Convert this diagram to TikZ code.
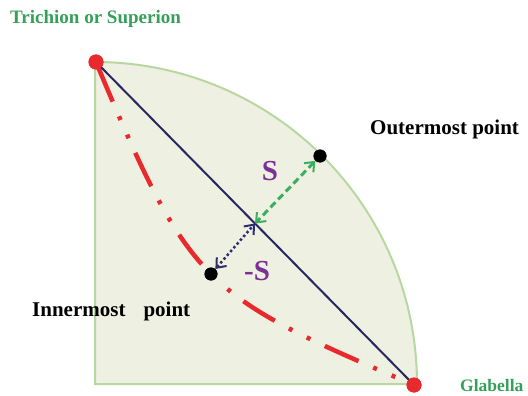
\documentclass[tikz,border=0pt]{standalone}
\usepackage{fontspec}
\setmainfont{Liberation Serif}
\usetikzlibrary{arrows.meta,calc}
\definecolor{regionfill}{HTML}{EEF0E1}
\definecolor{regionedge}{HTML}{B9D7A1}
\definecolor{labelgreen}{HTML}{34A058}
\definecolor{navy}{HTML}{27275F}
\definecolor{redpt}{HTML}{E82A2E}
\definecolor{purplelab}{HTML}{7B3096}
\definecolor{arrowgreen}{HTML}{3DAE5E}
\definecolor{dotnavy}{HTML}{2E2E6E}
\tikzset{
  reddot/.style={circle,fill=redpt,inner sep=0pt,minimum size=15pt},
  blackdot/.style={circle,fill=black,inner sep=0pt,minimum size=13pt},
  greenlab/.style={text=labelgreen,font=\fontsize{19}{21}\selectfont\bfseries,inner sep=0pt},
  blacklab/.style={text=black,font=\fontsize{21}{23}\selectfont\bfseries,inner sep=0pt},
  slab/.style={text=purplelab,font=\fontsize{29}{31}\selectfont\bfseries,inner sep=0pt},
  barb/.tip={Straight Barb[length=8pt,width=13pt,line width=2pt]},
}
\begin{document}
\begin{tikzpicture}[x=1pt,y=-1pt]
\useasboundingbox (0,0) rectangle (528,396);
% region
\filldraw[fill=regionfill,draw=regionedge,line width=2pt]
  (95,384) -- (95,62) arc[start angle=-90,end angle=0,radius=322] -- cycle;
% points
\node[reddot] (T) at (96,62) {};
\node[reddot] (G) at (414,385) {};
\coordinate (M) at ($(T)!0.5!(G)$);
\node[blackdot] (O) at (320,156) {};
\node[blackdot] (I) at (211,274) {};
% red dash-dot-dot curve
\draw[redpt,line width=4.5pt,dash pattern=on 37pt off 16pt on 4pt off 16pt on 4pt off 16pt,dash phase=87pt]
  (T.center) .. controls (190,287) and (203,295) .. (G.center);
% diagonal
\draw[navy,line width=2pt] (T.center) -- (G.center);
% arrows
\draw[arrowgreen,line width=3pt,dash pattern=on 7pt off 4pt,{barb}-{barb}] (O) -- (M);
\draw[dotnavy,line width=2.5pt,dash pattern=on 2.5pt off 2.5pt,{barb}-{barb}] (I) -- (M);
\node[blackdot] at (O) {};
\node[blackdot] at (I) {};
\node[reddot] at (T) {};
\node[reddot] at (G) {};
% labels
\node[greenlab,anchor=base west] (lt) at (10,24) {Trichion or Superion};
\node[greenlab,anchor=base west,font=\fontsize{17.5}{19}\selectfont\bfseries] (lg) at (460,391) {Glabella};
\node[blacklab,anchor=base west] (lo) at (370,135) {Outermost point};
\node[blacklab,anchor=base west] (li) at (32,316) {Innermost\hspace{18pt}point};
\node[slab] (s1) at (270,171) {S};
\node[slab] (s2) at (257,271) {-S};
\end{tikzpicture}
\end{document}
